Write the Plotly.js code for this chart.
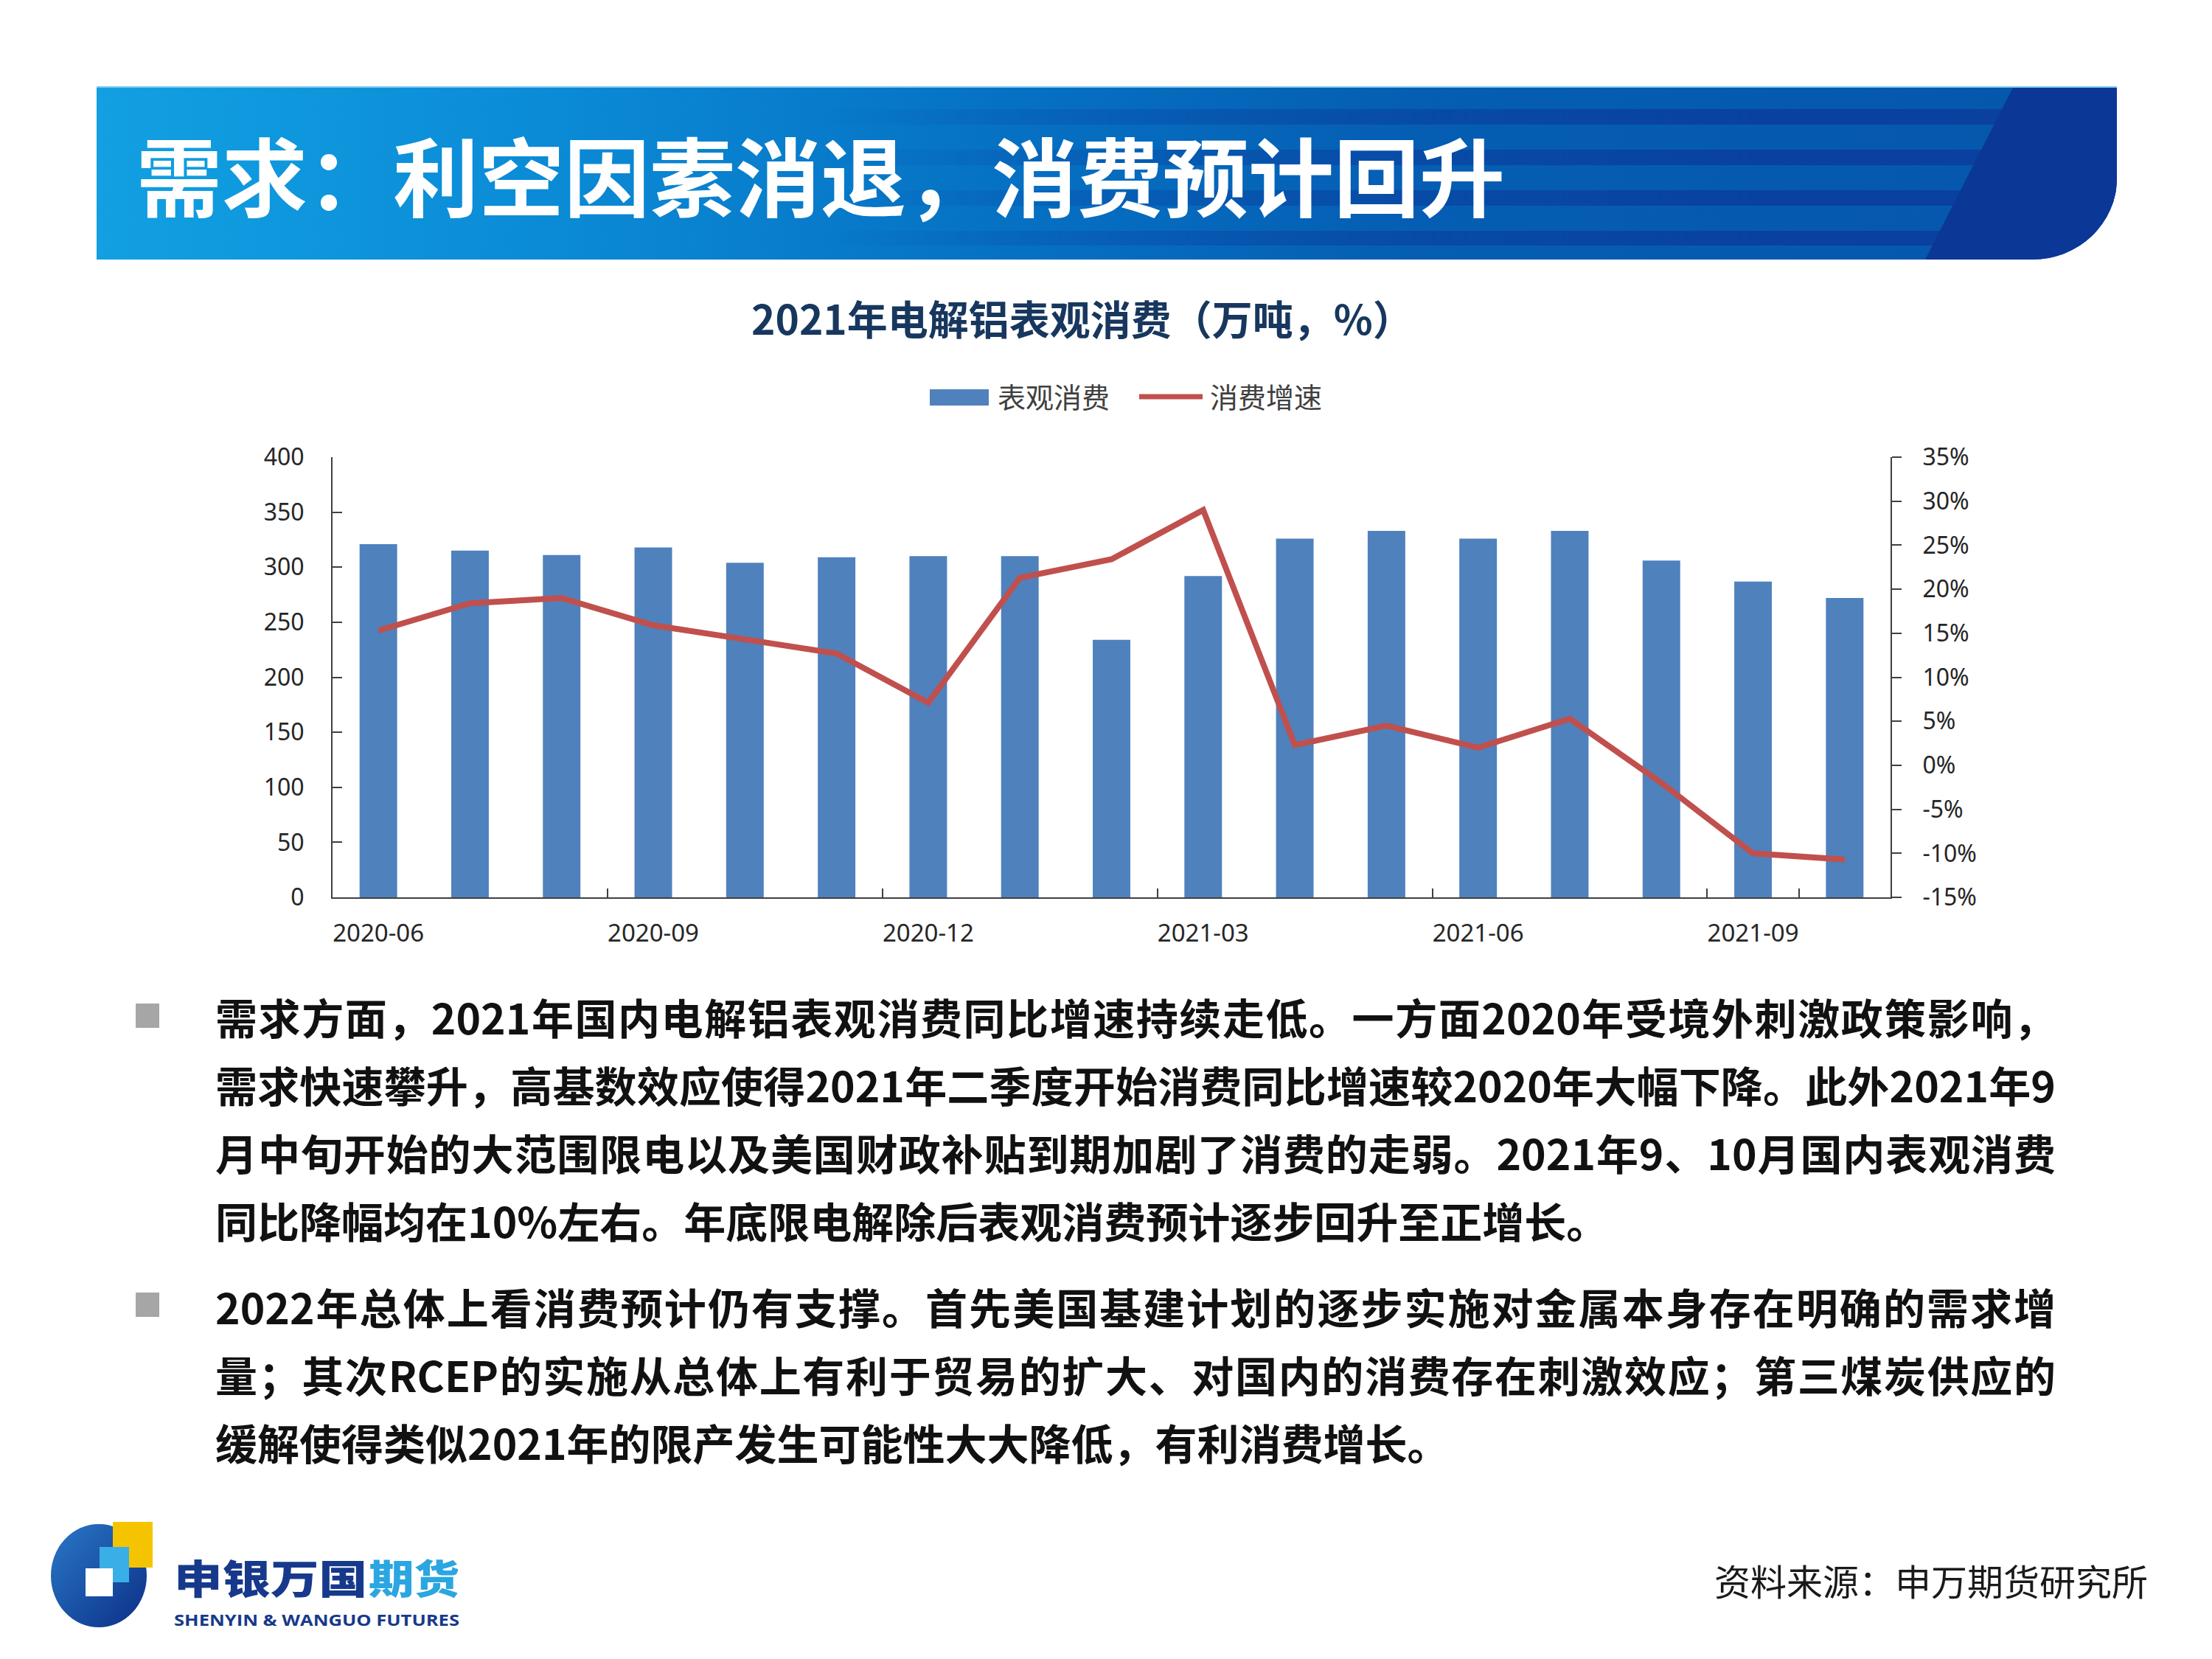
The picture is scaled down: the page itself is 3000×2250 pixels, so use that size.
<!DOCTYPE html>
<html>
<head>
<meta charset="utf-8">
<script src="https://cdn.plot.ly/plotly-3.0.1.min.js"></script>
<style>
  html, body { margin: 0; padding: 0; background: #fff; }
  body { width: 3000px; height: 2250px; position: relative; overflow: hidden; font-family: "Noto Sans CJK SC", sans-serif; }
  #chart { position: absolute; left: 0; top: 0; width: 3000px; height: 2250px; }
  .banner { position: absolute; left: 131px; top: 117px; width: 2740px; height: 235px; overflow: hidden;
    border-bottom-right-radius: 115px 110px;
    background: linear-gradient(90deg, #12a0e2 0%, #0b8bd6 22%, #0671c3 45%, #055eb3 65%, #0556ab 100%); }
  .banner .stripes { position: absolute; left: 0; top: 0; right: 0; bottom: 0;
    background: linear-gradient(180deg, transparent 0 31px, #0a409f 31px 52px, transparent 52px 86px, #0a409f 86px 107px,
      transparent 107px 141px, #0a409f 141px 162px, transparent 162px 196px, #0a409f 196px 216px, transparent 216px);
    -webkit-mask-image: linear-gradient(90deg, transparent 36%, rgba(0,0,0,0.55) 62%, #000 85%);
    mask-image: linear-gradient(90deg, transparent 36%, rgba(0,0,0,0.55) 62%, #000 85%); }
  .banner .cap { position: absolute; top: 0; bottom: 0; left: 2470px; right: 0; background: #0b3797;
    clip-path: polygon(130px 0, 100% 0, 100% 100%, 10px 100%); }
  .banner .edge { position: absolute; left: 0; right: 0; top: 0; height: 2px; background: #7cc8ef; }
  .banner .htitle { position: absolute; left: 54px; top: 0; height: 235px; line-height: 235px; font-size: 116px;
    font-weight: 700; color: #fff; white-space: nowrap; }
  .text { position: absolute; left: 292px; width: 2496px; }
  .line { height: 92px; line-height: 92px; font-size: 57px; font-weight: 700; color: #111; white-space: nowrap; }
  .line.j { text-align: justify; text-align-last: justify; }
  .bullet { position: absolute; left: 184px; width: 32px; height: 33px; background: #a6a6a6; }
  .source { position: absolute; right: 87px; top: 2113px; line-height: 60px; font-size: 49px; color: #1a1a1a; white-space: nowrap; }
  .logo { position: absolute; left: 0; top: 2040px; }
</style>
</head>
<body>
<div id="chart"></div>

<div class="banner">
  <div class="stripes"></div>
  <div class="cap"></div>
  <div class="edge"></div>
  <div class="htitle">需求：利空因素消退，消费预计回升</div>
</div>

<div class="bullet" style="top:1361px"></div>
<div class="text" style="top:1332px">
  <div class="line j">需求方面，2021年国内电解铝表观消费同比增速持续走低。一方面2020年受境外刺激政策影响，</div>
  <div class="line j">需求快速攀升，高基数效应使得2021年二季度开始消费同比增速较2020年大幅下降。此外2021年9</div>
  <div class="line j">月中旬开始的大范围限电以及美国财政补贴到期加剧了消费的走弱。2021年9、10月国内表观消费</div>
  <div class="line">同比降幅均在10%左右。年底限电解除后表观消费预计逐步回升至正增长。</div>
</div>

<div class="bullet" style="top:1753px"></div>
<div class="text" style="top:1725px">
  <div class="line j">2022年总体上看消费预计仍有支撑。首先美国基建计划的逐步实施对金属本身存在明确的需求增</div>
  <div class="line j">量；其次RCEP的实施从总体上有利于贸易的扩大、对国内的消费存在刺激效应；第三煤炭供应的</div>
  <div class="line">缓解使得类似2021年的限产发生可能性大大降低，有利消费增长。</div>
</div>

<svg class="logo" width="700" height="210" viewBox="0 2040 700 210">
  <defs>
    <linearGradient id="lg" x1="0" y1="0" x2="1" y2="1">
      <stop offset="0" stop-color="#2a78c8"/>
      <stop offset="1" stop-color="#0b2f86"/>
    </linearGradient>
  </defs>
  <ellipse cx="134" cy="2137" rx="65" ry="70" fill="url(#lg)"/>
  <rect x="153" y="2064" width="54" height="62" fill="#f5c400"/>
  <rect x="135" y="2098" width="40" height="48" fill="#3aaee6"/>
  <rect x="116" y="2127" width="37" height="38" fill="#fff"/>
  <text x="236" y="2162" font-family="Noto Sans CJK SC" font-weight="900" font-size="54" textLength="262" lengthAdjust="spacingAndGlyphs" fill="#17398c">申银万国</text>
  <text x="500" y="2162" font-family="Noto Sans CJK SC" font-weight="900" font-size="54" textLength="123" lengthAdjust="spacingAndGlyphs" fill="#2ba6e0">期货</text>
  <text x="236" y="2205" font-family="Open Sans" font-weight="700" font-size="22" textLength="387" lengthAdjust="spacingAndGlyphs" fill="#17398c">SHENYIN &amp; WANGUO FUTURES</text>
</svg>

<div class="source">资料来源：申万期货研究所</div>

<script>
var months = ['2020-06', '2020-07', '2020-08', '2020-09', '2020-10', '2020-11', '2020-12',
              '2021-01', '2021-02', '2021-03', '2021-04', '2021-05', '2021-06', '2021-07',
              '2021-08', '2021-09', '2021-10'];
// 表观消费 (万吨)
var consumption = [321, 315, 311, 318, 304, 309, 310, 310, 234, 292, 326, 333, 326, 333, 306, 287, 272];
// 消费增速 (%)
var growth = [15.3, 18.4, 19.0, 15.9, 14.3, 12.7, 7.1, 21.3, 23.4, 29.0, 2.3, 4.5, 2.0, 5.3, -2.0, -10.0, -10.7];
var tickMonths = ['2020-06', '2020-09', '2020-12', '2021-03', '2021-06', '2021-09'];
var growthTicks = [-15, -10, -5, 0, 5, 10, 15, 20, 25, 30, 35];
var growthTickText = ['-15%', '-10%', '-5%', '0%', '5%', '10%', '15%', '20%', '25%', '30%', '35%'];

var barName = '表观消费';
var lineName = '消费增速';

// plot box in page pixels
var L = 451, R = 2564, T = 620, B = 1217;
function px(x) { return (x - L) / (R - L); }
function py(y) { return (B - y) / (B - T); }

var axisColor = '#404040';

var bars = {
  x: months,
  y: consumption,
  type: 'bar',
  name: barName,
  marker: { color: '#4f81bd' },
  yaxis: 'y'
};

var line = {
  x: months,
  y: growth,
  type: 'scatter',
  mode: 'lines',
  name: lineName,
  line: { color: '#c0504d', width: 8 },
  yaxis: 'y2'
};

var layout = {
  width: 3000,
  height: 2250,
  margin: { l: L, r: 3000 - R, t: T, b: 2250 - B, pad: 0 },
  paper_bgcolor: 'rgba(0,0,0,0)',
  plot_bgcolor: 'rgba(0,0,0,0)',
  showlegend: false,
  bargap: 0.59,
  font: { family: '"Noto Sans", "Noto Sans CJK SC", sans-serif', size: 32, color: '#262626' },
  xaxis: {
    type: 'category',
    range: [-0.5, 16.5],
    tickvals: tickMonths,
    ticktext: tickMonths,
    tickangle: 0,
    tickson: 'boundaries',
    ticks: 'inside',
    ticklen: 12,
    tickwidth: 2,
    tickcolor: axisColor,
    showline: true,
    linecolor: axisColor,
    linewidth: 2,
    showgrid: false,
    zeroline: false,
    tickfont: { size: 33 },
    ticklabelstandoff: 18
  },
  yaxis: {
    range: [0, 400],
    tick0: 0,
    dtick: 50,
    ticks: 'inside',
    ticklen: 13,
    tickwidth: 2,
    tickcolor: axisColor,
    showline: true,
    linecolor: axisColor,
    linewidth: 2,
    showgrid: false,
    zeroline: false,
    ticklabelstandoff: 30
  },
  yaxis2: {
    overlaying: 'y',
    side: 'right',
    range: [-15, 35],
    tickvals: growthTicks,
    ticktext: growthTickText,
    ticks: 'outside',
    ticklen: 13,
    tickwidth: 2,
    tickcolor: axisColor,
    showline: true,
    linecolor: axisColor,
    linewidth: 2,
    showgrid: false,
    zeroline: false,
    ticklabelstandoff: 22
  },
  shapes: [
    { type: 'rect', xref: 'paper', yref: 'paper', x0: px(1261), x1: px(1341), y0: py(550), y1: py(528),
      fillcolor: '#4f81bd', line: { width: 0 } },
    { type: 'line', xref: 'paper', yref: 'paper', x0: px(1545), x1: px(1631), y0: py(538), y1: py(538),
      line: { color: '#c0504d', width: 7 } }
  ],
  annotations: [
    { xref: 'paper', yref: 'paper', x: px(1468), y: py(430), xanchor: 'center', yanchor: 'middle',
      text: '<b>2021年电解铝表观消费（万吨，%）</b>', showarrow: false,
      font: { family: '"Noto Sans CJK SC", sans-serif', size: 55, color: '#17375e' } },
    { xref: 'paper', yref: 'paper', x: px(1351), y: py(536), xanchor: 'left', yanchor: 'middle',
      text: barName, showarrow: false,
      font: { family: '"Noto Sans CJK SC", sans-serif', size: 38, color: '#404040' } },
    { xref: 'paper', yref: 'paper', x: px(1639), y: py(536), xanchor: 'left', yanchor: 'middle',
      text: lineName, showarrow: false,
      font: { family: '"Noto Sans CJK SC", sans-serif', size: 38, color: '#404040' } }
  ]
};

Plotly.newPlot('chart', [bars, line], layout, { staticPlot: true, displayModeBar: false });
</script>
</body>
</html>
